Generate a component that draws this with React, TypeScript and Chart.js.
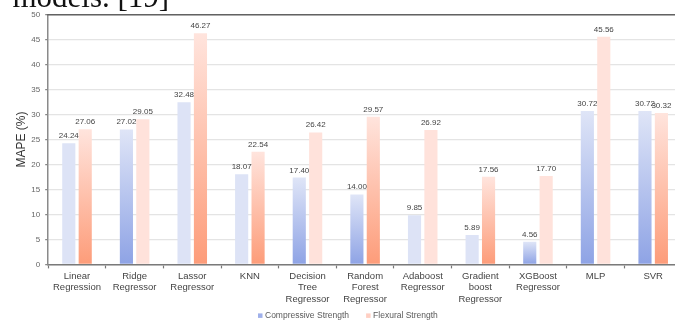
import React, { useEffect, useRef } from 'react';
import { Chart, registerables } from 'chart.js';

Chart.register(...registerables);

// ---- data ----
const categories: string[][] = [
  ['Linear', 'Regression'],
  ['Ridge', 'Regressor'],
  ['Lassor', 'Regressor'],
  ['KNN'],
  ['Decision', 'Tree', 'Regressor'],
  ['Random', 'Forest', 'Regressor'],
  ['Adaboost', 'Regressor'],
  ['Gradient', 'boost', 'Regressor'],
  ['XGBoost', 'Regressor'],
  ['MLP'],
  ['SVR'],
];
const compressive = [24.24, 27.02, 32.48, 18.07, 17.4, 14.0, 9.85, 5.89, 4.56, 30.72, 30.72];
const flexural = [27.06, 29.05, 46.27, 22.54, 26.42, 29.57, 26.92, 17.56, 17.7, 45.56, 30.32];
const seriesLabels = ['Compressive Strength', 'Flexural Strength'];
const yTicks = [0, 5, 10, 15, 20, 25, 30, 35, 40, 45, 50];
const yTitle = 'MAPE (%)';
const captionText = 'models. [19]';

// ---- styles (which bars are shaded with a gradient) ----
const compShaded = [false, true, false, false, true, true, false, false, true, true, true];
const flexShaded = [true, false, true, true, false, true, false, true, false, false, true];

const FONT = '"Liberation Sans", Arial, sans-serif';
const COMP_FLAT = '#dde3f6';
const COMP_TOP = '#dfe5f7';
const COMP_BOTTOM = '#8ea3e5';
const FLEX_FLAT = '#ffe2db';
const FLEX_TOP = '#ffe4dd';
const FLEX_BOTTOM = '#fd9c79';
const LEGEND_COLORS = ['#9fb0ea', '#ffcfc3'];

function barFill(flat: string, top: string, bottom: string, shaded: boolean[]) {
  return (ctx: any) => {
    const i = ctx.dataIndex;
    if (ctx.type !== 'data' || !shaded[i]) return flat;
    const chart = ctx.chart;
    const ys = chart.scales && chart.scales.y;
    if (!ys) return flat;
    const v = ctx.raw as number;
    const y0 = ys.getPixelForValue(0);
    const y1 = ys.getPixelForValue(v);
    if (!isFinite(y0) || !isFinite(y1) || y0 === y1) return flat;
    const g = chart.ctx.createLinearGradient(0, y1, 0, y0);
    g.addColorStop(0, top);
    g.addColorStop(1, bottom);
    return g;
  };
}

const decorPlugin = {
  id: 'decor',
  afterDatasetsDraw(chart: any) {
    const ctx = chart.ctx as CanvasRenderingContext2D;
    ctx.save();
    ctx.font = `8px ${FONT}`;
    ctx.fillStyle = '#444';
    ctx.textAlign = 'center';
    ctx.textBaseline = 'alphabetic';
    chart.data.datasets.forEach((ds: any, di: number) => {
      const meta = chart.getDatasetMeta(di);
      meta.data.forEach((bar: any, i: number) => {
        const v = ds.data[i] as number;
        ctx.fillText(v.toFixed(2), bar.x, bar.y - 5);
      });
    });
    ctx.restore();
  },
  afterDraw(chart: any) {
    const ctx = chart.ctx as CanvasRenderingContext2D;
    const area = chart.chartArea;
    ctx.save();
    // top frame line
    ctx.strokeStyle = '#626262';
    ctx.lineWidth = 1.6;
    ctx.beginPath();
    ctx.moveTo(area.left - 1, area.top);
    ctx.lineTo(chart.width, area.top);
    ctx.stroke();

    // caption text cut at the top
    ctx.font = '31px "Liberation Serif", "Times New Roman", serif';
    ctx.fillStyle = '#111';
    ctx.textAlign = 'left';
    ctx.textBaseline = 'alphabetic';
    ctx.fillText(captionText, 12.5, 6.5);

    // legend
    ctx.font = `8.5px ${FONT}`;
    ctx.textBaseline = 'middle';
    let x = 258;
    const y = 315.7;
    seriesLabels.forEach((lbl, i) => {
      ctx.fillStyle = LEGEND_COLORS[i];
      ctx.fillRect(x, y - 2.3, 4.5, 4.5);
      ctx.fillStyle = '#595959';
      ctx.fillText(lbl, x + 7, y);
      x += 7 + ctx.measureText(lbl).width + 17;
    });
    ctx.restore();
  },
};

export default function App() {
  const ref = useRef<HTMLCanvasElement | null>(null);

  useEffect(() => {
    if (!ref.current) return;
    const chart = new Chart(ref.current, {
      type: 'bar',
      data: {
        labels: categories,
        datasets: [
          {
            label: seriesLabels[0],
            data: compressive,
            backgroundColor: barFill(COMP_FLAT, COMP_TOP, COMP_BOTTOM, compShaded) as any,
            borderWidth: 0,
            categoryPercentage: 0.57,
            barPercentage: 0.8,
          },
          {
            label: seriesLabels[1],
            data: flexural,
            backgroundColor: barFill(FLEX_FLAT, FLEX_TOP, FLEX_BOTTOM, flexShaded) as any,
            borderWidth: 0,
            categoryPercentage: 0.57,
            barPercentage: 0.8,
          },
        ],
      },
      options: {
        responsive: false,
        animation: false,
        devicePixelRatio: 1,
        layout: { padding: { top: 14.7, right: 0, bottom: 13.4, left: 0 } },
        plugins: {
          legend: { display: false },
          tooltip: { enabled: false },
        },
        scales: {
          x: {
            offset: true,
            grid: {
              display: true,
              drawOnChartArea: false,
              offset: true,
              tickLength: 4,
              tickColor: '#777',
              tickWidth: 1.2,
            },
            border: { display: true, color: '#7a7a7a', width: 1.5 },
            ticks: {
              font: { family: FONT, size: 9.5, lineHeight: 1.2 },
              color: '#444',
              padding: 2,
              maxRotation: 0,
              minRotation: 0,
              autoSkip: false,
            },
          },
          y: {
            min: 0,
            max: 50,
            afterBuildTicks: (scale: any) => {
              scale.ticks = yTicks.map((v) => ({ value: v }));
            },
            afterFit: (scale: any) => {
              scale.width = 48.2;
            },
            grid: {
              color: '#e4e4e4',
              lineWidth: 1.3,
              tickLength: 3,
              tickColor: '#888',
            },
            border: { display: true, color: '#8a8a8a', width: 1.5 },
            ticks: {
              font: { family: FONT, size: 8 },
              color: '#666',
              padding: 5,
            },
            title: {
              display: true,
              text: yTitle,
              font: { family: FONT, size: 12 },
              color: '#333',
              padding: { top: 14.5, bottom: 0 },
            },
          },
        },
      },
      plugins: [decorPlugin],
    });
    return () => chart.destroy();
  }, []);

  return (
    <div
      style={{
        position: 'fixed',
        left: 0,
        top: 0,
        width: 675,
        height: 320,
        overflow: 'hidden',
        background: '#fff',
      }}
    >
      <canvas ref={ref} width={682} height={320} style={{ display: 'block', width: 682, height: 320 }} />
    </div>
  );
}
